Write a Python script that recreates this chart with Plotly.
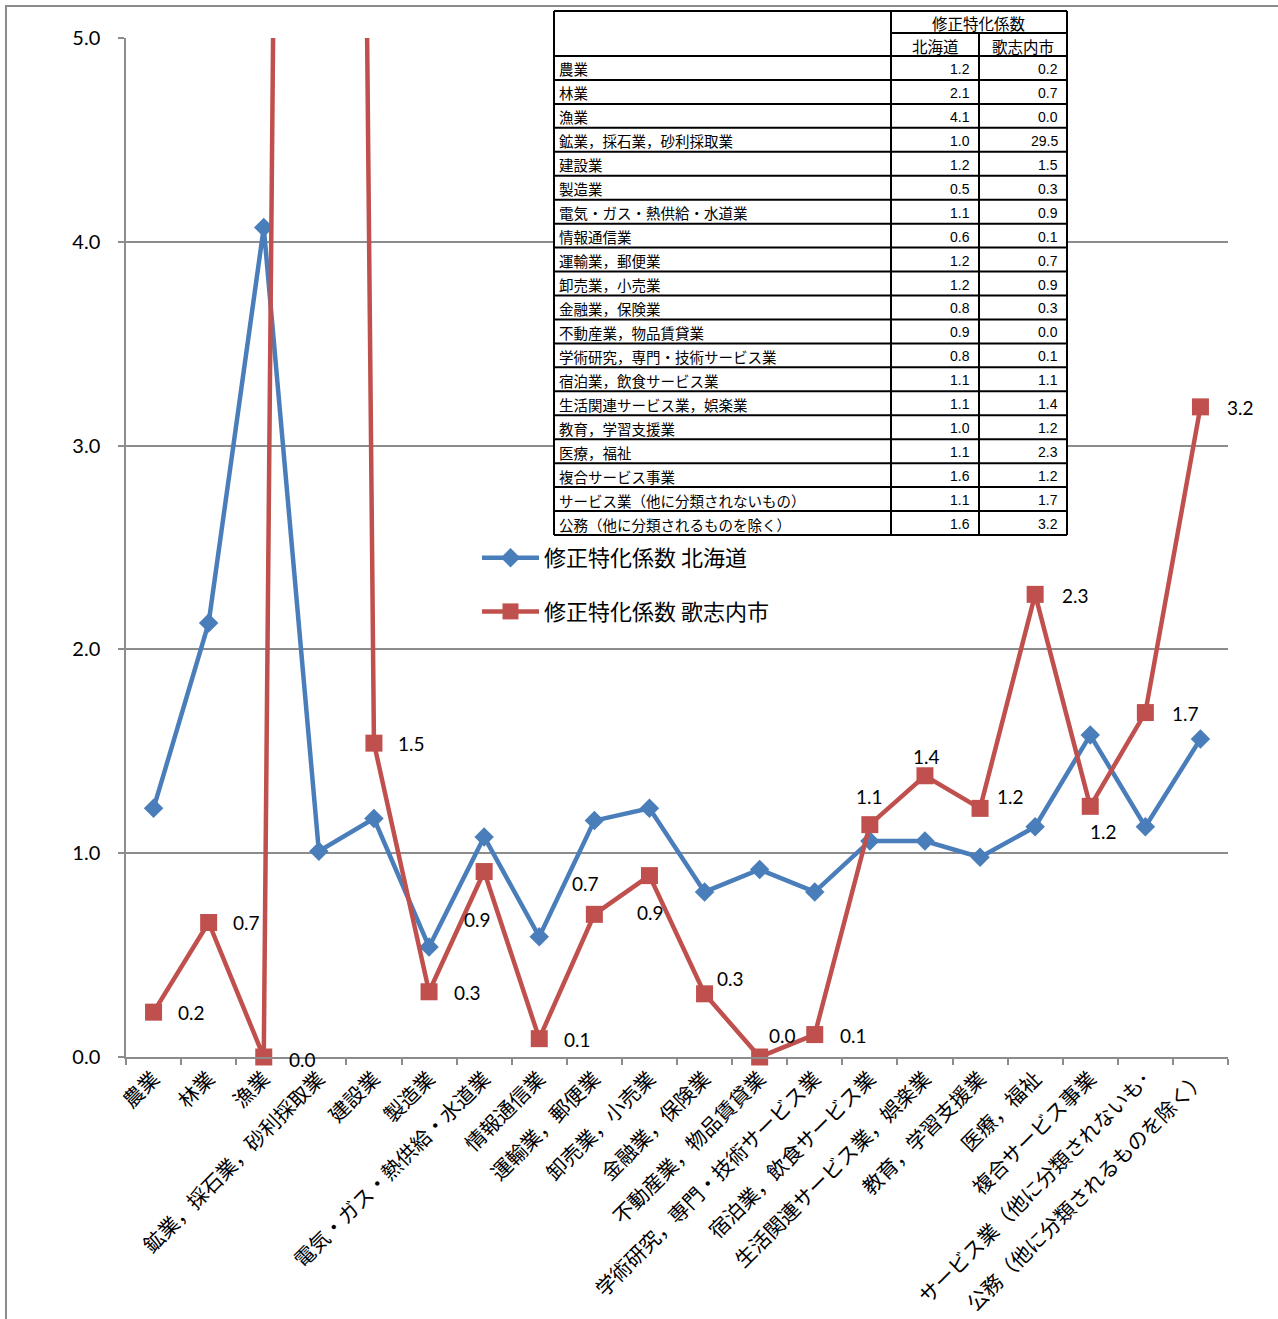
import plotly.graph_objects as go

# 産業分類
industries = [
    "農業", "林業", "漁業", "鉱業，採石業，砂利採取業", "建設業", "製造業",
    "電気・ガス・熱供給・水道業", "情報通信業", "運輸業，郵便業", "卸売業，小売業",
    "金融業，保険業", "不動産業，物品賃貸業", "学術研究，専門・技術サービス業",
    "宿泊業，飲食サービス業", "生活関連サービス業，娯楽業", "教育，学習支援業",
    "医療，福祉", "複合サービス事業", "サービス業（他に分類されないもの）",
    "公務（他に分類されるものを除く）",
]
# 軸ラベル（長い項目は途中で切れた表示）
axis_labels = industries[:18] + ["サービス業（他に分類されないも･", industries[19]]

# 修正特化係数
hokkaido = [1.22, 2.13, 4.07, 1.01, 1.17, 0.54, 1.08, 0.59, 1.16, 1.22,
            0.81, 0.92, 0.81, 1.06, 1.06, 0.98, 1.13, 1.58, 1.13, 1.56]
utashinai = [0.22, 0.66, 0.0, 29.5, 1.54, 0.32, 0.91, 0.09, 0.70, 0.89,
             0.31, 0.0, 0.11, 1.14, 1.38, 1.22, 2.27, 1.23, 1.69, 3.19]

series_names = ["修正特化係数 北海道", "修正特化係数 歌志内市"]
table_title = "修正特化係数"
table_cols = ["北海道", "歌志内市"]

BLUE = "#4A7EBB"
RED = "#C0504D"
GRID = "#8C8C8C"
Y_MAX = 5.0

# ---- page geometry (pixels) ----
W, H = 1278, 1319
L, R, T, B = 126, 50, 38, 262
PW, PH = W - L - R, H - T - B


def px_x(px):
    return (px - L) / PW


def px_y(py):
    return (H - B - py) / PH


fig = go.Figure()
fig.add_trace(go.Scatter(
    x=industries, y=hokkaido, name=series_names[0], mode="lines+markers",
    line=dict(color=BLUE, width=4.5),
    marker=dict(symbol="diamond", size=15, color=BLUE),
    legendgroup="a",
))
fig.add_trace(go.Scatter(
    x=industries, y=utashinai, name=series_names[1], mode="lines+markers",
    line=dict(color=RED, width=4.5),
    marker=dict(symbol="square", size=17, color=RED),
    legendgroup="b", cliponaxis=False,
))

# 歌志内市のデータラベル（ラベル位置のずらし量, px）
label_shift = [
    (38, 0), (38, 0), (39, 2), None, (38, 0), (38, 1), (-7, 48), (38, 1),
    (-9, -31), (1, 37), (26, -15), (23, -22), (39, 1), (0, -28), (2, -19),
    (30, -12), (40, 1), (13, 25), (40, 1), (40, 1),
]
annotations = []
for name, v, sh in zip(industries, utashinai, label_shift):
    if v > Y_MAX or sh is None:
        continue
    annotations.append(dict(
        x=name, y=v, xref="x", yref="y", text=f"{v:.1f}", showarrow=False,
        xshift=sh[0], yshift=-sh[1],
        font=dict(family="Lato, Open Sans, sans-serif", size=19, color="black"),
    ))

# ---- 表（右上） ----
tx0, tx1, tx2, tx3 = 554, 891, 979, 1067
ty_top, ty_h1, ty_h2 = 11, 33, 56
ty_bottom = 535
row_h = (ty_bottom - ty_h2) / len(industries)

shapes = []
# white background of the table
shapes.append(dict(type="rect", xref="paper", yref="paper", layer="above",
                   x0=px_x(tx0), x1=px_x(tx3), y0=px_y(ty_bottom), y1=px_y(ty_top),
                   fillcolor="white", line=dict(width=0)))


def hline(y, xa, xb):
    shapes.append(dict(type="line", xref="paper", yref="paper", layer="above",
                       x0=px_x(xa), x1=px_x(xb), y0=px_y(y), y1=px_y(y),
                       line=dict(color="black", width=2)))


def vline(x, ya, yb):
    shapes.append(dict(type="line", xref="paper", yref="paper", layer="above",
                       x0=px_x(x), x1=px_x(x), y0=px_y(ya), y1=px_y(yb),
                       line=dict(color="black", width=2)))


hline(ty_top, tx0, tx3)
hline(ty_h1, tx1, tx3)
for i in range(len(industries) + 1):
    hline(ty_h2 + i * row_h, tx0, tx3)
vline(tx0, ty_top, ty_bottom)
vline(tx1, ty_top, ty_bottom)
vline(tx2, ty_h1, ty_bottom)
vline(tx3, ty_top, ty_bottom)

jp_font = "Noto Sans CJK JP, sans-serif"
num_font = "Liberation Sans Narrow, Liberation Sans, Arial, sans-serif"


def cell_text(text, x, y, anchor, font, size):
    annotations.append(dict(
        x=px_x(x), y=px_y(y), xref="paper", yref="paper", text=text,
        showarrow=False, xanchor=anchor, yanchor="middle",
        font=dict(family=font, size=size, color="black"),
    ))


cell_text(table_title, (tx1 + tx3) / 2, (ty_top + ty_h1) / 2 + 1, "center", jp_font, 15.5)
cell_text(table_cols[0], (tx1 + tx2) / 2, (ty_h1 + ty_h2) / 2 + 1, "center", jp_font, 15.5)
cell_text(table_cols[1], (tx2 + tx3) / 2, (ty_h1 + ty_h2) / 2 + 1, "center", jp_font, 15.5)
for i, (name, a, b) in enumerate(zip(industries, hokkaido, utashinai)):
    cy = ty_h2 + (i + 0.5) * row_h + 1
    cell_text(name, tx0 + 3, cy, "left", jp_font, 14.5)
    cell_text(f"{a:.1f}", tx2 - 7, cy, "right", num_font, 14)
    cell_text(f"{b:.1f}", tx3 - 7, cy, "right", num_font, 14)

# outer chart border
shapes.append(dict(type="rect", xref="paper", yref="paper", layer="below",
                   x0=px_x(6), x1=px_x(W + 20), y0=px_y(H + 20), y1=px_y(6),
                   line=dict(color=GRID, width=2), fillcolor="rgba(0,0,0,0)"))

fig.update_layout(
    width=W, height=H, autosize=False,
    margin=dict(l=L, r=R, t=T, b=B, pad=0, autoexpand=False),
    paper_bgcolor="white", plot_bgcolor="white",
    showlegend=True,
    legend=dict(
        x=px_x(477), y=px_y(537), xanchor="left", yanchor="top",
        bgcolor="rgba(0,0,0,0)", borderwidth=0, tracegroupgap=22,
        itemwidth=57,
        font=dict(family=jp_font, size=22, color="black"),
    ),
    xaxis=dict(
        type="category", tickmode="array", tickvals=industries, ticktext=axis_labels,
        range=[-0.5, len(industries) - 0.5], automargin=False,
        tickson="boundaries", ticks="outside", ticklen=6, tickcolor=GRID, tickwidth=1.5,
        showline=True, linecolor=GRID, linewidth=1.5, showgrid=False,
        tickangle=-45, tickfont=dict(family=jp_font, size=20.5, color="black"),
    ),
    yaxis=dict(
        range=[0, Y_MAX], dtick=1, tickformat=".1f", automargin=False,
        showgrid=True, gridcolor=GRID, gridwidth=1.5, zeroline=False,
        showline=True, linecolor=GRID, linewidth=1.5,
        ticks="outside", ticklen=6, tickcolor=GRID, tickwidth=1.5,
        ticklabelstandoff=14,
        tickfont=dict(family="Lato, Open Sans, sans-serif", size=20, color="black"),
    ),
    shapes=shapes,
    annotations=annotations,
)

fig.write_html("out.html")
